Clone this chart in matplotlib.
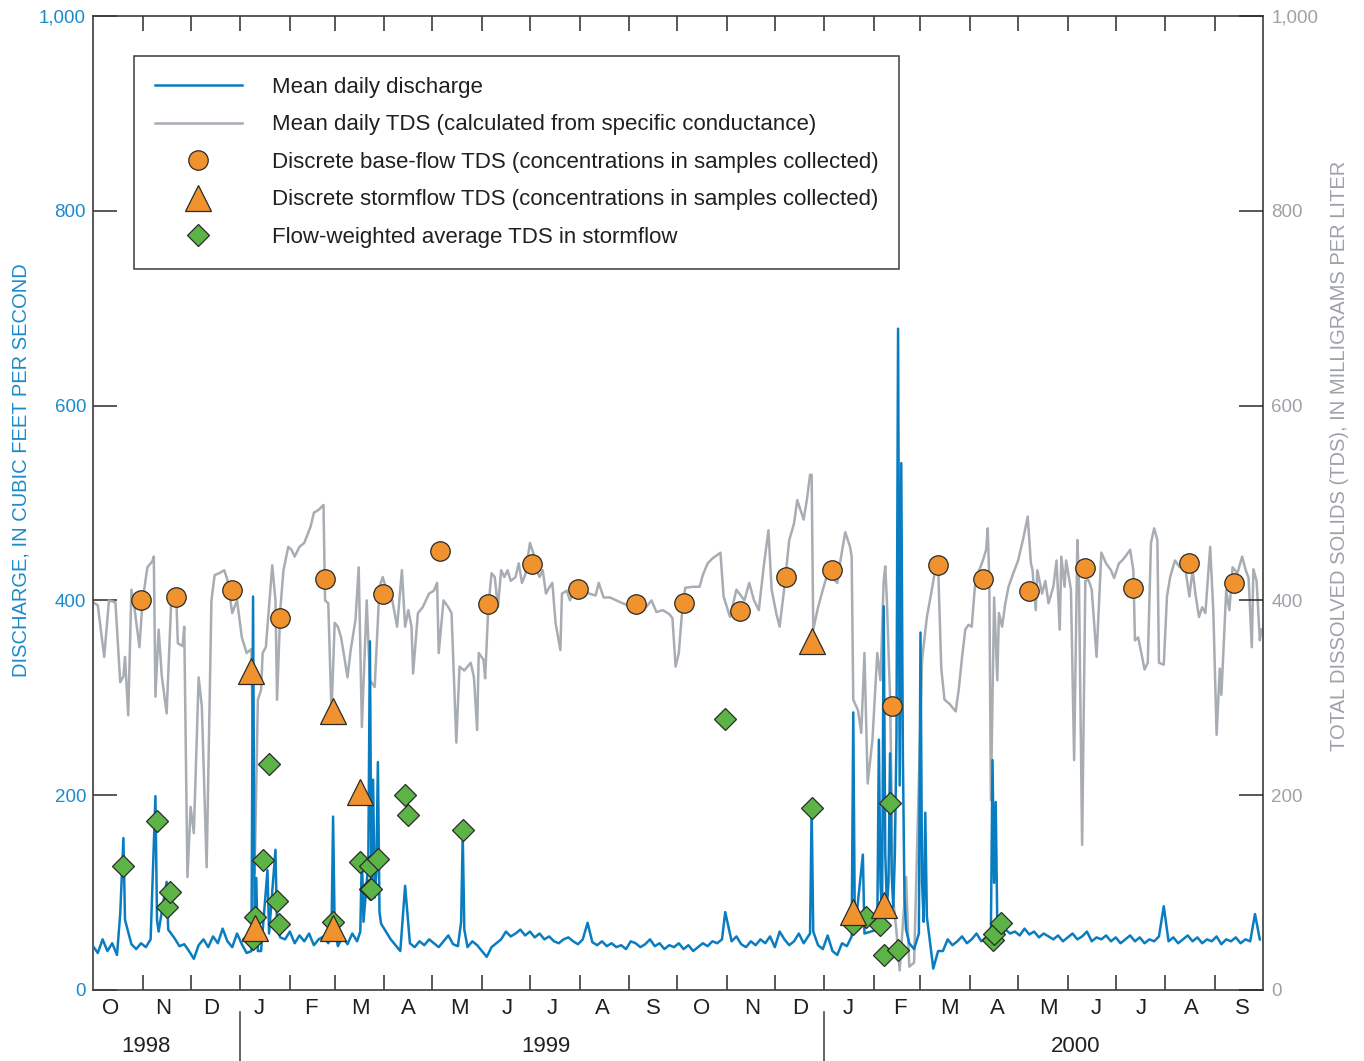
import numpy as np
import matplotlib.pyplot as plt
import matplotlib.dates as mdates
import matplotlib.transforms as mtransforms
from matplotlib.lines import Line2D

plt.rcParams['font.family'] = ['Liberation Sans', 'DejaVu Sans']

# day 0 = 1 Oct 1998 (start of water year 1999)
start = np.datetime64('1998-10-01')

# mean daily discharge, every third day (cfs)
q_base = [45, 38, 52, 40, 48, 36, 55, 60, 47, 42,
          48, 44, 52, 62, 58, 55, 50, 53, 45, 47,
          40, 32, 46, 52, 44, 55, 48, 63, 50, 44,
          58, 47, 38, 30, 34, 40, 45, 58, 62, 54,
          52, 60, 48, 56, 50, 58, 46, 52, 55, 48,
          52, 45, 55, 47, 58, 50, 62, 60, 75, 80,
          68, 60, 52, 46, 40, 38, 48, 44, 50, 46,
          52, 48, 44, 50, 56, 47, 45, 52, 44, 50,
          46, 40, 34, 44, 48, 52, 60, 55, 58, 62,
          56, 60, 54, 58, 52, 55, 50, 48, 52, 54,
          50, 47, 52, 44, 49, 46, 50, 45, 48, 44,
          46, 42, 50, 48, 44, 47, 52, 45, 48, 42,
          46, 44, 48, 42, 46, 40, 44, 48, 45, 50,
          48, 52, 46, 50, 55, 47, 44, 50, 46, 52,
          48, 55, 44, 60, 52, 46, 50, 58, 48, 54,
          50, 46, 42, 56, 40, 36, 48, 45, 52, 40,
          55, 48, 60, 52, 58, 50, 56, 48, 62, 58,
          48, 42, 50, 55, 45, 22, 40, 40, 52, 46,
          50, 55, 48, 52, 58, 50, 54, 56, 60, 55,
          62, 58, 60, 56, 63, 57, 60, 54, 58, 55,
          52, 56, 50, 54, 58, 52, 55, 60, 50, 54,
          52, 56, 50, 54, 48, 52, 56, 50, 54, 48,
          52, 50, 55, 58, 50, 54, 48, 52, 56, 50,
          54, 48, 52, 50, 55, 47, 52, 50, 54, 48,
          52, 50, 54, 52]
q_base_days = np.arange(0, 731, 3)

# storm days (day, cfs)
storm_q_days = [17, 19, 20, 39, 40, 41, 46, 47,
                99, 100, 101, 102, 103, 109, 110, 114, 115,
                149, 150, 151, 167, 168, 169,
                172, 173, 174, 175, 176, 177, 178, 179, 180,
                195, 230, 231, 232, 309, 395, 448, 449, 450,
                474, 475, 476, 481, 482,
                490, 491, 492, 493, 494, 495, 496, 497, 498, 499,
                500, 501, 502, 503, 504, 505, 506, 507, 508,
                516, 517, 518, 519, 520, 521,
                561, 562, 563, 564, 565, 669, 726]
storm_q = [78, 156, 72, 199, 72, 60, 111, 62,
           40, 404, 55, 115, 40, 123, 58, 144, 62,
           58, 178, 62, 60, 140, 70,
           130, 358, 100, 216, 95, 120, 234, 80, 68,
           107, 70, 160, 62, 69, 80, 58, 187, 60,
           55, 285, 60, 139, 58,
           62, 257, 110, 75, 394, 140, 85, 110, 243, 120,
           85, 140, 260, 679, 210, 541, 240, 95, 62,
           58, 367, 110, 70, 182, 75,
           62, 236, 110, 193, 66, 86, 78]

# mean daily TDS from specific conductance (mg/L)
tds_days = [0, 3, 7, 10, 14, 17, 19, 20, 22, 24, 26, 29, 31, 34, 37, 38, 39, 41, 43, 46,
            49, 52, 53, 56, 57, 59, 61, 63, 66, 68, 71, 74, 76, 79, 82, 84, 87, 90, 93, 96,
            99, 101, 103, 105, 106, 108, 112, 114, 115, 117, 119, 122, 124, 126, 129, 132,
            136, 138, 141, 144, 145, 147, 149, 151, 153, 155, 157, 159, 161, 164, 166, 168,
            171, 173, 176, 179, 181, 184, 187, 190, 193, 195, 197, 199, 200, 203, 206, 210,
            213, 215, 216, 219, 222, 224, 227, 229, 232, 236, 238, 240, 241, 244, 245, 247,
            249, 251, 253, 255, 257, 259, 261, 264, 266, 268, 270, 273, 275, 277, 279, 281,
            283, 285, 287, 289, 292, 293, 296, 298, 301, 306, 310, 314, 316, 319, 323, 327,
            331, 337, 344, 349, 352, 356, 360, 362, 364, 366, 368, 370, 375, 379, 381, 384,
            387, 392, 394, 398, 402, 407, 410, 413, 416, 419, 422, 424, 427, 429, 432, 435,
            438, 440, 444, 446, 448, 449, 450, 453, 456, 459, 465, 467, 470, 473, 474, 475,
            478, 480, 482, 484, 487, 490, 492, 494, 495, 496, 498, 500, 502, 504, 508, 510,
            513, 518, 521, 524, 526, 528, 530, 532, 535, 539, 541, 543, 545, 547, 549, 551,
            553, 556, 558, 559, 560, 561, 563, 565, 566, 568, 570, 572, 575, 578, 581, 584,
            586, 587, 589, 590, 593, 595, 597, 600, 602, 604, 605, 607, 608, 611, 613, 615,
            616, 618, 620, 622, 624, 627, 630, 633, 636, 638, 641, 643, 645, 648, 650, 651,
            653, 655, 657, 659, 661, 663, 665, 666, 669, 671, 673, 676, 679, 682, 685, 687,
            689, 691, 693, 695, 698, 700, 702, 704, 705, 708, 710, 712, 715, 718, 720, 722,
            724, 725, 727, 729, 730]
tds_vals = [398, 395, 342, 400, 398, 316, 322, 342, 282, 411, 391, 352, 400, 434, 440, 445, 301, 370, 322, 284,
            404, 404, 356, 353, 373, 116, 188, 161, 321, 291, 126, 400, 426, 428, 431, 421, 387, 400, 362, 346,
            350, 120, 298, 308, 346, 352, 436, 400, 298, 390, 431, 455, 452, 445, 455, 459,
            476, 490, 493, 498, 400, 397, 284, 377, 373, 362, 342, 321, 349, 380, 434, 270,
            400, 318, 311, 414, 424, 407, 400, 373, 431, 373, 390, 373, 325, 387, 393, 407,
            410, 418, 346, 400, 393, 387, 254, 332, 328, 336, 321, 267, 346, 339, 320, 393,
            428, 424, 393, 431, 424, 431, 420, 424, 438, 418, 426, 459, 449, 431, 424, 431,
            407, 413, 418, 377, 349, 407, 410, 400, 413, 410, 407, 405, 418, 403, 403, 400,
            397, 393, 390, 400, 388, 390, 386, 382, 332, 346, 387, 413, 414, 414, 426, 438,
            443, 449, 404, 383, 411, 400, 418, 400, 390, 434, 472, 411, 386, 373, 414, 462,
            479, 503, 483, 503, 529, 529, 370, 393, 411, 428, 418, 441, 470, 455, 445, 298,
            287, 264, 346, 212, 257, 346, 318, 420, 435, 400, 300, 92, 60, 20, 116, 24,
            28, 339, 383, 410, 430, 436, 330, 298, 294, 286, 310, 342, 370, 375, 373, 414,
            428, 441, 452, 474, 420, 195, 403, 318, 387, 373, 397, 414, 428, 441, 462, 486,
            438, 431, 390, 431, 407, 420, 397, 414, 441, 370, 445, 414, 441, 411, 236, 462,
            420, 149, 420, 421, 411, 342, 449, 438, 431, 423, 438, 441, 445, 452, 431, 359,
            362, 346, 329, 336, 459, 474, 462, 336, 334, 404, 424, 441, 434, 438, 404, 431,
            404, 383, 393, 387, 455, 387, 262, 330, 303, 410, 390, 434, 428, 445, 432, 423,
            352, 432, 420, 359, 370]

# discrete samples
base_days = [30, 52, 87, 117, 145, 181, 217, 247, 274, 303, 339, 369,
             404, 433, 462, 499, 528, 556, 585, 620, 650, 685, 713]
base_tds = [400, 404, 411, 382, 422, 407, 451, 396, 437, 412, 396, 397,
            389, 424, 431, 292, 436, 422, 410, 433, 413, 438, 418]
storm_days = [99, 101, 150, 150, 167, 449, 475, 494]
storm_tds = [328, 64, 286, 64, 203, 358, 80, 87]
fw_days = [19, 40, 46, 48, 100, 101, 106, 110, 115, 116, 150, 167, 173, 173, 174,
           178, 195, 197, 231, 395, 449, 475, 483, 492, 494, 498, 503, 562, 563, 567]
fw_tds = [127, 174, 85, 101, 52, 75, 133, 232, 91, 68, 70, 131, 127, 104, 104,
          134, 200, 180, 164, 278, 187, 68, 75, 67, 36, 192, 41, 51, 57, 69]

month_letters = ['O', 'N', 'D', 'J', 'F', 'M', 'A', 'M', 'J', 'J', 'A', 'S'] * 2
month_label_days = [11, 44, 74, 104, 136, 167, 197, 229, 259, 287, 318, 350,
                    380, 412, 442, 472, 504, 535, 565, 597, 627, 655, 686, 718]
year_labels = ['1998', '1999', '2000']
year_label_days = [33, 283, 614]


def on_day(days):
    return start + np.asarray(days).astype('timedelta64[D]')


# merge storm peaks into the base series
sd = np.array(storm_q_days)
keep = np.array([np.min(np.abs(sd - d)) > 1 for d in q_base_days])
q_days = np.concatenate([q_base_days[keep], sd])
q_vals = np.concatenate([np.array(q_base)[keep], storm_q])
order = np.argsort(q_days, kind='stable')
q_days, q_vals = q_days[order], q_vals[order]

blue = '#0A7DC1'
blue_txt = '#1C8BCB'
grey = '#A8ADB3'
grey_txt = '#9EA2A7'
orange = '#F0932F'
green = '#5DB446'
edge = '#2A2A2A'
ink = '#231F20'

fig = plt.figure(figsize=(13.64, 10.61), dpi=100)
ax = fig.add_axes([93 / 1364, 71 / 1061, 1170 / 1364, 974 / 1061])

ax.plot(on_day(tds_days), tds_vals, color=grey, lw=1.8, zorder=2)
ax.plot(on_day(q_days), q_vals, color=blue, lw=1.8, zorder=3)
ax.plot(on_day(fw_days), fw_tds, ls='none', marker='D', ms=11, mfc=green,
        mec=edge, mew=0.9, zorder=4)
ax.plot(on_day(storm_days), storm_tds, ls='none', marker='^', ms=19, mfc=orange,
        mec=edge, mew=0.9, zorder=5)
ax.plot(on_day(base_days), base_tds, ls='none', marker='o', ms=14, mfc=orange,
        mec=edge, mew=0.9, zorder=6)

x0 = mdates.date2num(start)
ax.set_xlim(x0, x0 + 731)
ax.set_ylim(0, 1000)

for s in ax.spines.values():
    s.set_color('#3C3C3C')
    s.set_linewidth(1.2)

# month ticks, letters sit between them
month_starts = np.arange(np.datetime64('1998-11'), np.datetime64('2000-10'),
                         dtype='datetime64[M]').astype('datetime64[D]')
ax.set_xticks(mdates.date2num(month_starts))
ax.set_xticklabels([])
ax.set_xticks(x0 + np.array(month_label_days), minor=True)
ax.set_xticklabels(month_letters, minor=True)
ax.tick_params(axis='x', which='major', direction='in', length=10.5, width=1.1,
               color='#2A2A2A', top=True, bottom=True)
ax.tick_params(axis='x', which='minor', length=0, pad=6, labelsize=16, labelcolor=ink)

yt = [0, 200, 400, 600, 800, 1000]
ytl = ['0', '200', '400', '600', '800', '1,000']
ax.set_yticks(yt)
ax.set_yticklabels(ytl)
ax.tick_params(axis='y', direction='in', length=17, width=1.1, color='#2A2A2A',
               labelsize=13.5, labelcolor=blue_txt, pad=5)

ax2 = ax.twinx()
ax2.set_ylim(0, 1000)
ax2.set_yticks(yt)
ax2.set_yticklabels(ytl)
ax2.tick_params(axis='y', direction='in', length=17, width=1.1, color='#2A2A2A',
                labelsize=13.5, labelcolor=grey_txt, pad=6)
for s in ax2.spines.values():
    s.set_visible(False)

ax.set_ylabel('DISCHARGE, IN CUBIC FEET PER SECOND', color=blue_txt, fontsize=14.5)
ax.yaxis.set_label_coords(-0.053, 0.534)
ax2.set_ylabel('TOTAL DISSOLVED SOLIDS (TDS), IN MILLIGRAMS PER LITER',
               color=grey_txt, fontsize=14.5)
ax2.yaxis.set_label_coords(1.057, 0.548)

# year labels and dividers under the month letters
trans = mtransforms.blended_transform_factory(ax.transData, ax.transAxes)
for lab, d in zip(year_labels, year_label_days):
    ax.text(x0 + d, -0.0575, lab, transform=trans, ha='center', va='center',
            fontsize=16, color=ink)
for jan in ['1999-01-01', '2000-01-01']:
    xj = mdates.date2num(np.datetime64(jan))
    ax.add_line(Line2D([xj, xj], [-0.0225, -0.075], transform=trans,
                       color='#3C3C3C', lw=1.1, clip_on=False))

handles = [
    Line2D([], [], color=blue, lw=1.8),
    Line2D([], [], color=grey, lw=1.8),
    Line2D([], [], ls='none', marker='o', ms=14, mfc=orange, mec=edge, mew=0.9),
    Line2D([], [], ls='none', marker='^', ms=19, mfc=orange, mec=edge, mew=0.9),
    Line2D([], [], ls='none', marker='D', ms=11, mfc=green, mec=edge, mew=0.9),
]
labels = [
    'Mean daily discharge',
    'Mean daily TDS (calculated from specific conductance)',
    'Discrete base-flow TDS (concentrations in samples collected)',
    'Discrete stormflow TDS (concentrations in samples collected)',
    'Flow-weighted average TDS in stormflow',
]
leg = ax.legend(handles, labels, loc='upper left', bbox_to_anchor=(0.035, 0.959),
                fontsize=16, frameon=True, fancybox=False, framealpha=1,
                edgecolor='#3C3C3C', handlelength=3.9, handletextpad=1.35,
                borderpad=0.95, labelspacing=0.74, borderaxespad=0)
leg.get_frame().set_linewidth(1.1)
for t in leg.get_texts():
    t.set_color(ink)

fig.savefig('out.png', dpi=100)
